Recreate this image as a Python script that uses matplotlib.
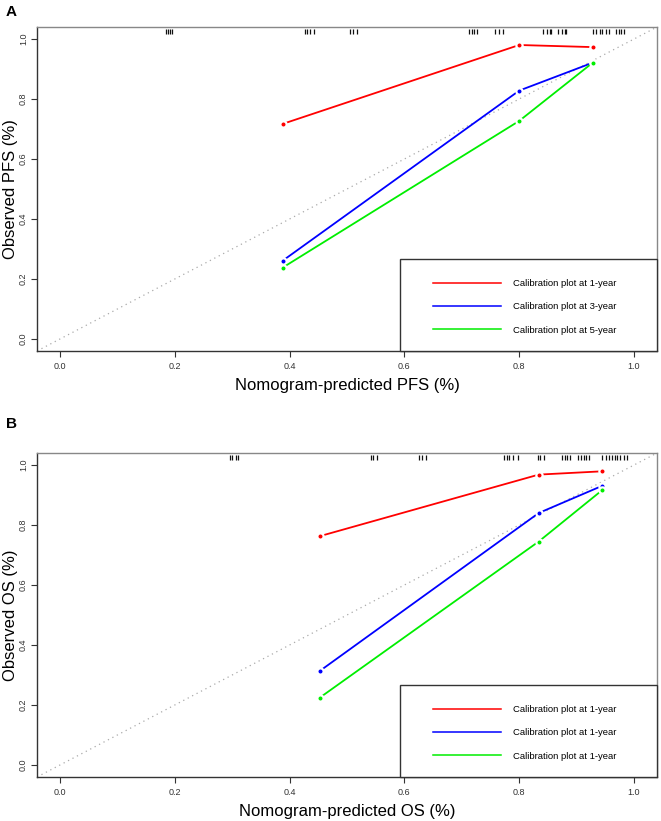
import matplotlib
matplotlib.use("Agg")
import matplotlib.pyplot as plt
from matplotlib.lines import Line2D
from matplotlib.patches import Rectangle

plt.rcParams['font.family'] = ['Liberation Sans', 'DejaVu Sans']

# ---- Panel A data (PFS) ----
a_pred = [0.388, 0.800, 0.928]
a_obs_1y = [0.717, 0.980, 0.973]
a_obs_3y = [0.261, 0.828, 0.921]
a_obs_5y = [0.238, 0.727, 0.921]
a_rug = [0.184, 0.189, 0.192, 0.196,
         0.426, 0.431, 0.436, 0.442,
         0.506, 0.511, 0.518,
         0.712, 0.717, 0.722, 0.726,
         0.757, 0.764, 0.771,
         0.842, 0.848, 0.853, 0.856,
         0.868, 0.874, 0.879, 0.882,
         0.929, 0.934, 0.940, 0.945, 0.951, 0.956,
         0.968, 0.973, 0.978, 0.982]
a_labels = ["Calibration plot at 1-year", "Calibration plot at 3-year", "Calibration plot at 5-year"]

# ---- Panel B data (OS) ----
b_pred = [0.453, 0.834, 0.945]
b_obs_1y = [0.763, 0.968, 0.979]
b_obs_3y = [0.314, 0.840, 0.931]
b_obs_5y = [0.225, 0.745, 0.917]
b_rug = [0.297, 0.300, 0.306, 0.311,
         0.541, 0.546, 0.553,
         0.625, 0.630, 0.637,
         0.773, 0.778, 0.783, 0.790, 0.797,
         0.832, 0.837, 0.844,
         0.874, 0.879, 0.884, 0.888,
         0.902, 0.907, 0.912, 0.917, 0.921,
         0.945, 0.951, 0.956, 0.961, 0.966, 0.971, 0.976, 0.982, 0.987]
b_labels = ["Calibration plot at 1-year", "Calibration plot at 1-year", "Calibration plot at 1-year"]

ticks = [0.0, 0.2, 0.4, 0.6, 0.8, 1.0]
tick_labels = ["0.0", "0.2", "0.4", "0.6", "0.8", "1.0"]
colors = ["#ff0000", "#0000ff", "#00ee00"]

fig = plt.figure(figsize=(6.61, 8.21), dpi=100)
W, H = 661, 821
AX_L, AX_R = 37, 657

def make_axes(top_px, bottom_px):
    return fig.add_axes([AX_L / W, 1 - bottom_px / H, (AX_R - AX_L) / W, (bottom_px - top_px) / H])

def draw_panel(ax, pred, obs_list, rug, labels, xlabel, ylabel, top_px, bottom_px):
    hpx = bottom_px - top_px
    wpx = AX_R - AX_L
    ax.set_xlim(-0.04, 1.04)
    ax.set_ylim(-0.04, 1.04)
    ax.plot([-0.04, 1.04], [-0.04, 1.04], ls=(0, (1, 3)), color="#aaaaaa", lw=0.9, zorder=1)
    for obs, c in zip(obs_list, colors):
        ax.plot(pred, obs, color=c, lw=1.3, marker='o', ms=4.5, mfc=c, mec='white',
                mew=1.6, zorder=3)
    ax.vlines(rug, 1.016, 1.032, color="#111111", lw=0.9, zorder=2)
    ax.set_xticks(ticks)
    ax.set_xticklabels(tick_labels)
    ax.set_yticks(ticks)
    ax.set_yticklabels(tick_labels, rotation=90, va='center')
    ax.tick_params(axis='both', labelsize=6.5, length=4, width=0.8, color="#333333",
                   labelcolor="#333333")
    ax.tick_params(axis='x', pad=4)
    ax.tick_params(axis='y', pad=2.5)
    for s in ['left', 'bottom']:
        ax.spines[s].set_color("#333333")
        ax.spines[s].set_linewidth(1.0)
    for s in ['top', 'right']:
        ax.spines[s].set_color("#888888")
        ax.spines[s].set_linewidth(1.0)
    ax.set_xlabel(xlabel, fontsize=12, labelpad=5)
    ax.set_ylabel(ylabel, fontsize=12)
    ax.yaxis.set_label_coords((18 - AX_L) / wpx, 0.5)
    # legend frame drawn manually
    box_left = (400 - AX_L) / wpx
    box_h = 92 / hpx
    ax.add_patch(Rectangle((box_left, 0.0), 1.0 - box_left, box_h, transform=ax.transAxes,
                           fill=True, facecolor='white', edgecolor="#333333", lw=1.0,
                           zorder=4, clip_on=False))
    handles = [Line2D([0], [0], color=c, lw=1.1) for c in colors]
    leg = ax.legend(handles, labels, loc='upper left',
                    bbox_to_anchor=((433 - AX_L) / wpx, 72 / hpx),
                    fontsize=6.8, frameon=False, handlelength=7.2,
                    handletextpad=1.27, borderpad=0.0, labelspacing=1.52,
                    borderaxespad=0.0)
    leg.set_zorder(5)

axA = make_axes(27, 351)
draw_panel(axA, a_pred, [a_obs_1y, a_obs_3y, a_obs_5y], a_rug, a_labels,
           "Nomogram-predicted PFS (%)", "Observed PFS (%)", 27, 351)
axB = make_axes(453, 777)
draw_panel(axB, b_pred, [b_obs_1y, b_obs_3y, b_obs_5y], b_rug, b_labels,
           "Nomogram-predicted OS (%)", "Observed OS (%)", 453, 777)

fig.text(6 / W, 1 - 12 / H, "A", fontsize=11, fontweight='bold', va='center', ha='left')
fig.text(6 / W, 1 - 424 / H, "B", fontsize=11, fontweight='bold', va='center', ha='left')

fig.savefig("out.png", dpi=100)
